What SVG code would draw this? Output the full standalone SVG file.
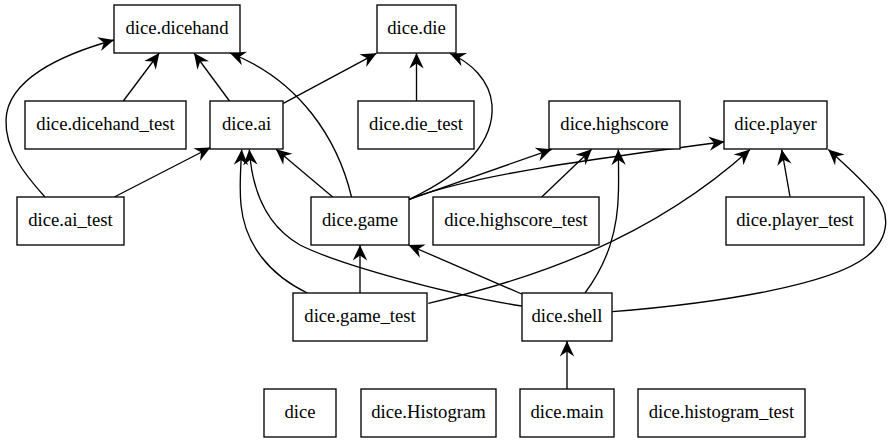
<svg xmlns="http://www.w3.org/2000/svg" width="891" height="443" viewBox="0 0 891 443">
<style>
.n rect{fill:#fff;stroke:#000;stroke-width:1.33}
.n text{font-family:"Liberation Serif","Times New Roman",Times,serif;font-size:18.67px;text-anchor:middle;fill:#000}
.e path{fill:none;stroke:#000;stroke-width:1.33;marker-end:url(#v)}
</style>
<defs>
<marker id="v" markerUnits="userSpaceOnUse" viewBox="-17 -9 18 18" markerWidth="18" markerHeight="18" refX="0" refY="0" orient="auto">
<path d="M0,0 L-15.5,-7.2 L-10.5,0 L-15.5,7.2 Z" fill="#000"/>
</marker>
</defs>
<rect width="891" height="443" fill="#fff"/>
<g class="e" id="edges">
<path d="M123.3,101 L159.3,53"/>
<path d="M229.5,101 L194,53"/>
<path d="M351.5,197 C338,140 300,80 230,53"/>
<path d="M45,197 C25,175 5,150 6,120 C7,80 60,55 114,40"/>
<path d="M283.3,103.3 L376.5,53.3"/>
<path d="M416.5,101 L416.5,53"/>
<path d="M409.3,199.3 C450,180 495,150 492,105 C490,80 470,62 450,53.5"/>
<path d="M114.3,197 L210.5,147.5"/>
<path d="M332.7,197 L276,149.3"/>
<path d="M307.3,293 C270,275 245,245 241,205 C239,185 241,165 241.7,149.5"/>
<path d="M521.7,306 C450,295 340,265 300,245 C265,225 252,190 249.3,149.5"/>
<path d="M409.3,199.3 L551.7,149.3"/>
<path d="M409.3,199.3 C470,175 600,158 724.5,141.7"/>
<path d="M541.7,197 L591.7,149.3"/>
<path d="M585,293 C608,262 618,230 618.5,190 C618.7,175 618.5,160 618.3,149.5"/>
<path d="M428.3,303.3 C530,280 650,240 750,149.5"/>
<path d="M790,196.7 L781.7,149.5"/>
<path d="M612.3,311.7 C720,303 830,285 866,257 C892,237 890,210 873,193 C860,178 840,160 828.3,149.5"/>
<path d="M360,293 L360,245"/>
<path d="M521.7,294 L408.5,245"/>
<path d="M567,389 L567,341"/>
</g>
<g class="n" id="dice.dicehand"><rect x="114" y="5" width="126" height="48"/><text x="177" y="33.5">dice.dicehand</text></g>
<g class="n" id="dice.die"><rect x="377" y="5" width="79" height="48"/><text x="416.5" y="33.5">dice.die</text></g>
<g class="n" id="dice.dicehand_test"><rect x="25" y="101" width="161" height="48"/><text x="105.5" y="129.5">dice.dicehand_test</text></g>
<g class="n" id="dice.ai"><rect x="210" y="101" width="73" height="48"/><text x="246.5" y="129.5">dice.ai</text></g>
<g class="n" id="dice.die_test"><rect x="358" y="101" width="116" height="48"/><text x="416" y="129.5">dice.die_test</text></g>
<g class="n" id="dice.highscore"><rect x="549" y="101" width="131" height="48"/><text x="614.5" y="129.5">dice.highscore</text></g>
<g class="n" id="dice.player"><rect x="724" y="101" width="103" height="48"/><text x="775.5" y="129.5">dice.player</text></g>
<g class="n" id="dice.ai_test"><rect x="17" y="197" width="107" height="48"/><text x="70.5" y="225.5">dice.ai_test</text></g>
<g class="n" id="dice.game"><rect x="311" y="197" width="98" height="48"/><text x="360" y="225.5">dice.game</text></g>
<g class="n" id="dice.highscore_test"><rect x="433" y="197" width="166" height="48"/><text x="516" y="225.5">dice.highscore_test</text></g>
<g class="n" id="dice.player_test"><rect x="726" y="197" width="138" height="48"/><text x="795" y="225.5">dice.player_test</text></g>
<g class="n" id="dice.game_test"><rect x="293" y="293" width="134" height="48"/><text x="360" y="321.5">dice.game_test</text></g>
<g class="n" id="dice.shell"><rect x="522" y="293" width="90" height="48"/><text x="567" y="321.5">dice.shell</text></g>
<g class="n" id="dice"><rect x="264" y="389" width="72" height="48"/><text x="300" y="417.5">dice</text></g>
<g class="n" id="dice.Histogram"><rect x="361" y="389" width="135" height="48"/><text x="428.5" y="417.5">dice.Histogram</text></g>
<g class="n" id="dice.main"><rect x="520" y="389" width="94" height="48"/><text x="567" y="417.5">dice.main</text></g>
<g class="n" id="dice.histogram_test"><rect x="638" y="389" width="167" height="48"/><text x="721.5" y="417.5">dice.histogram_test</text></g>
</svg>
